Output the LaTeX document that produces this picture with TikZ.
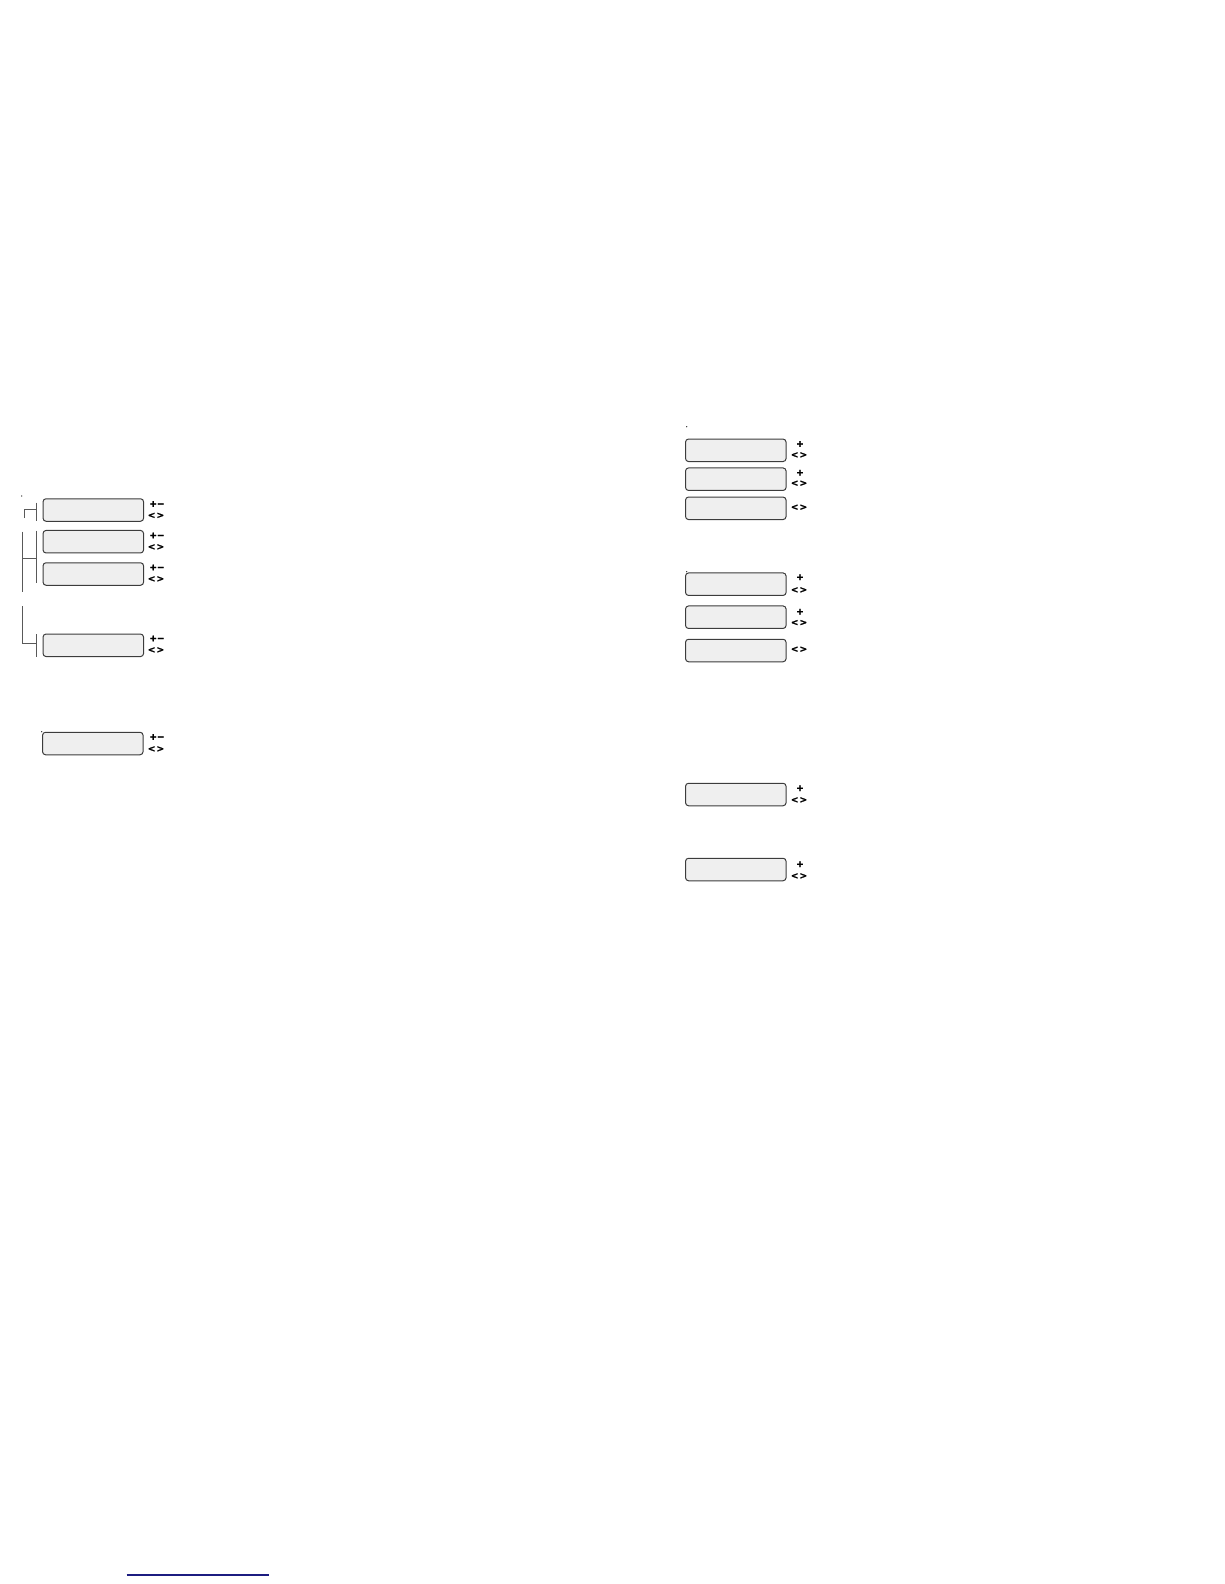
\documentclass[tikz,border=0pt]{standalone}
\usepackage{fontspec}
\setmainfont{DejaVu Sans}
\newfontfamily\keyfont{DejaVu Sans Bold}[FakeBold=1.5]
\definecolor{boxline}{HTML}{3C3C3C}
\definecolor{boxfill}{HTML}{EFEFEF}
\definecolor{linkblue}{HTML}{1C1C80}
\newcommand\lrkeys{<\kern1.2pt>}
\tikzset{
  menubox/.style={shape=rectangle,rounded corners=3pt,draw=boxline,fill=boxfill,
    line width=1pt,minimum width=100.5pt,minimum height=22.5pt,inner sep=0pt},
  keys/.style={inner sep=0pt,font=\keyfont\fontsize{9}{10}\selectfont},
  bracket/.style={draw=gray!70!black,line width=1pt}
}
\begin{document}
\begin{tikzpicture}
[x=1pt,y=-1pt]
\useasboundingbox (0,0) rectangle (1224,1584);
% left column
\path (93.3,510) node (l1) [menubox] {}
(93.3,541.7) node (l2) [menubox] {}
(93.3,574) node (l3) [menubox] {}
(93.3,645.3) node (l4) [menubox] {}
(92.8,743.5) node (l5) [menubox] {};
\path (157,504) node (l1p) [keys] {+−}
(156,515.5) node (l1a) [keys] {\lrkeys}
(157,535.5) node (l2p) [keys] {+−}
(156,547) node (l2a) [keys] {\lrkeys}
(157,567.5) node (l3p) [keys] {+−}
(156,579) node (l3a) [keys] {\lrkeys}
(157,638.5) node (l4p) [keys] {+−}
(156,650) node (l4a) [keys] {\lrkeys}
(157,737) node (l5p) [keys] {+−}
(156,749) node (l5a) [keys] {\lrkeys};
% brackets
\draw [bracket] (36,502.7) -- (36,521);
\draw [bracket] (24,518) -- (24,509.3) -- (36,509.3);
\draw [bracket] (36,530.7) -- (36,583.3);
\draw [bracket] (22.7,531.7) -- (22.7,591.7);
\draw [bracket] (22.7,558.3) -- (36,558.3);
\draw [bracket] (36,634) -- (36,656.7);
\draw [bracket] (22.7,606) -- (22.7,643.3) -- (36,643.3);
% right column
\path (735.8,450.3) node (r1) [menubox] {}
(735.8,479.2) node (r2) [menubox] {}
(735.8,508.3) node (r3) [menubox] {}
(735.8,584.2) node (r4) [menubox] {}
(735.8,617.2) node (r5) [menubox] {}
(735.8,650.5) node (r6) [menubox] {}
(735.8,794.5) node (r7) [menubox] {}
(735.8,869.5) node (r8) [menubox] {};
\path (800,444) node (r1p) [keys] {+}
(799,455) node (r1a) [keys] {\lrkeys}
(800,472.7) node (r2p) [keys] {+}
(799,483.3) node (r2a) [keys] {\lrkeys}
(799,507.3) node (r3a) [keys] {\lrkeys}
(800,577.3) node (r4p) [keys] {+}
(799,590) node (r4a) [keys] {\lrkeys}
(800,611.7) node (r5p) [keys] {+}
(799,622.7) node (r5a) [keys] {\lrkeys}
(799,649.3) node (r6a) [keys] {\lrkeys}
(800,788.3) node (r7p) [keys] {+}
(799,800) node (r7a) [keys] {\lrkeys}
(800,864.3) node (r8p) [keys] {+}
(799,876) node (r8a) [keys] {\lrkeys};
% stray dots
\fill [black] (21.7,496) circle (0.6) (41.7,731.7) circle (0.6)
(686.7,426.7) circle (0.6) (686.7,571.7) circle (0.6);
% link underline
\draw [linkblue,line width=1.2pt] (126.7,1575) -- (269.3,1575);
\end{tikzpicture}
\end{document}
